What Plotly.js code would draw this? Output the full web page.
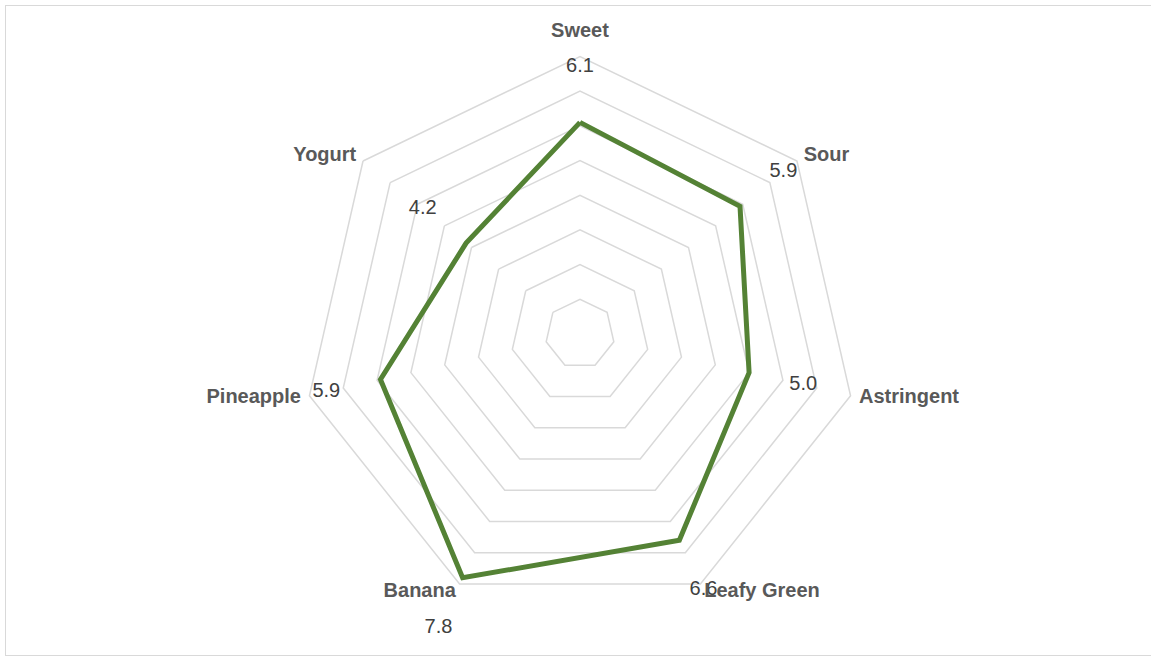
<!DOCTYPE html>
<html>
<head>
<meta charset="utf-8">
<script src="https://cdn.plot.ly/plotly-3.0.1.min.js"></script>
<style>
  html, body { margin: 0; padding: 0; background: #ffffff; }
  #chart { position: absolute; left: 0; top: 0; width: 1151px; height: 662px; }
  #frame { position: absolute; left: 5px; top: 5px; width: 1150px; height: 651px;
           border: 1px solid #d9d9d9; pointer-events: none; box-sizing: border-box; }
</style>
</head>
<body>
<div id="chart"></div>
<div id="frame"></div>
<script>
// Data
const categories = ["Sweet", "Sour", "Astringent", "Leafy Green", "Banana", "Pineapple", "Yogurt"];
const values = [6.1, 5.9, 5.0, 6.6, 7.8, 5.9, 4.2];
const gridValues = [1, 2, 3, 4, 5, 6, 7, 8];

// Style constants
const valueLabelOffset = 1.6;    // radial offset of value labels
const categoryLabelR = [8.42, 8.25, 8.25, 8.25, 8.25, 8.25, 8.25]; // radial position of category labels
const categoryTextPos = ["top center", "middle right", "middle right", "middle right",
                         "middle left", "middle left", "middle left"];
const rangeMax = 9.45;

const FONT = "Liberation Sans, Arial, sans-serif";

const lineTrace = {
  type: "scatterpolar",
  mode: "lines",
  r: values.concat([values[0]]),
  theta: categories.concat([categories[0]]),
  line: { color: "#548235", width: 5 },
  hoverinfo: "skip",
  showlegend: false
};

const valueLabelTrace = {
  type: "scatterpolar",
  mode: "text",
  r: values.map(v => v + valueLabelOffset),
  theta: categories,
  text: values.map(v => v.toFixed(1)),
  textfont: { family: FONT, size: 20, color: "#404040" },
  textposition: "middle center",
  cliponaxis: false,
  hoverinfo: "skip",
  showlegend: false
};

const categoryLabelTrace = {
  type: "scatterpolar",
  mode: "text",
  r: categoryLabelR,
  theta: categories,
  text: categories,
  textfont: { family: FONT, size: 20, color: "#595959", weight: "bold" },
  textposition: categoryTextPos,
  cliponaxis: false,
  hoverinfo: "skip",
  showlegend: false
};

const W = 1151, H = 662;
const cx = 580, cy = 334, unit = 34.69;
const R = unit * rangeMax;

const layout = {
  width: W,
  height: H,
  margin: { l: 0, r: 0, t: 0, b: 0, pad: 0 },
  paper_bgcolor: "#ffffff",
  plot_bgcolor: "#ffffff",
  showlegend: false,
  polar: {
    domain: {
      x: [(cx - R) / W, (cx + R) / W],
      y: [Math.max(0, (H - cy - R) / H), Math.min(1, (H - cy + R) / H)]
    },
    bgcolor: "rgba(0,0,0,0)",
    gridshape: "linear",
    radialaxis: {
      range: [0, rangeMax],
      tickmode: "array",
      tickvals: gridValues,
      showticklabels: false,
      ticks: "",
      showline: false,
      showgrid: true,
      gridcolor: "#d9d9d9",
      gridwidth: 1.5,
      angle: 90
    },
    angularaxis: {
      type: "category",
      categoryorder: "array",
      categoryarray: categories,
      direction: "clockwise",
      rotation: 90,
      showgrid: false,
      showline: false,
      showticklabels: false,
      ticks: ""
    }
  }
};

Plotly.newPlot("chart", [lineTrace, valueLabelTrace, categoryLabelTrace], layout,
  { displayModeBar: false, staticPlot: true });
</script>
</body>
</html>
